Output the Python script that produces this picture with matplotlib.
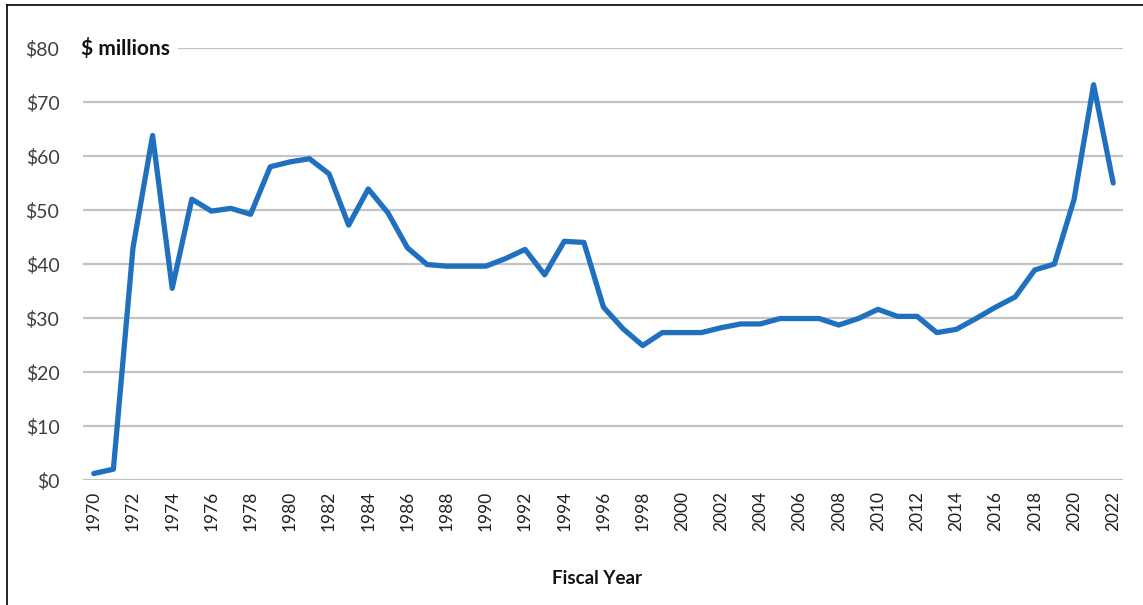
import matplotlib
matplotlib.use("Agg")
import matplotlib.pyplot as plt
from matplotlib.lines import Line2D

# Datos (millones de $ por año fiscal)
years = list(range(1970, 2023))
values = [
    1.2, 2.0, 43.0, 63.8, 35.5, 52.0, 49.8, 50.3, 49.2, 58.0,
    58.9, 59.5, 56.7, 47.2, 53.9, 49.5, 43.0, 39.9, 39.6, 39.6,
    39.6, 41.0, 42.7, 38.0, 44.2, 44.0, 32.0, 28.0, 24.9, 27.3,
    27.3, 27.3, 28.2, 28.9, 28.9, 29.9, 29.9, 29.9, 28.7, 29.9,
    31.6, 30.3, 30.3, 27.3, 27.9, 29.9, 32.0, 33.9, 38.9, 40.0,
    51.9, 73.2, 55.0,
]
y_ticks = list(range(0, 90, 10))
x_ticks = list(range(1970, 2023, 2))

plt.rcParams["font.family"] = ["Lato", "DejaVu Sans"]

W, H = 1143, 605
fig = plt.figure(figsize=(W / 100, H / 100), dpi=100)
ax = fig.add_axes([83 / W, 1 - 480 / H, (1123 - 83) / W, (480 - 48) / H])

ax.plot(years, values, color="#2070C0", lw=3.8, solid_joinstyle="round",
        solid_capstyle="round", zorder=3)

ax.set_xlim(1969.45, 2022.5)
ax.set_ylim(0, 80)
ax.set_yticks(y_ticks)
ax.set_yticklabels([f"${v}" for v in y_ticks], fontsize=14, color="#404040")
ax.set_xticks(x_ticks)
ax.set_xticklabels([str(y) for y in x_ticks], rotation=90, fontsize=12.5,
                   color="#202020")
ax.tick_params(length=0, axis="y", pad=17)
ax.tick_params(length=0, axis="x", pad=8)
ax.yaxis.grid(True, color="#c4c4c4", lw=1.6)
ax.set_axisbelow(True)
for s in ax.spines.values():
    s.set_visible(False)

ax.text(-0.002, 80, "$ millions", transform=ax.get_yaxis_transform(),
        fontsize=15, fontweight="bold", va="center", ha="left", color="#111111",
        bbox=dict(facecolor="white", edgecolor="none", pad=6), zorder=4)

fig.text(597 / W, 1 - 578 / H, "Fiscal Year", fontsize=13.5, fontweight="bold",
         ha="center", va="center", color="#111111")

# borde de la captura (izquierda y arriba)
fig.add_artist(Line2D([7 / W, 7 / W], [0, 1 - 5 / H], transform=fig.transFigure,
                      color="black", lw=1.2))
fig.add_artist(Line2D([7 / W, 1], [1 - 5 / H, 1 - 5 / H], transform=fig.transFigure,
                      color="black", lw=1.2))

fig.savefig("out.png", dpi=100)
